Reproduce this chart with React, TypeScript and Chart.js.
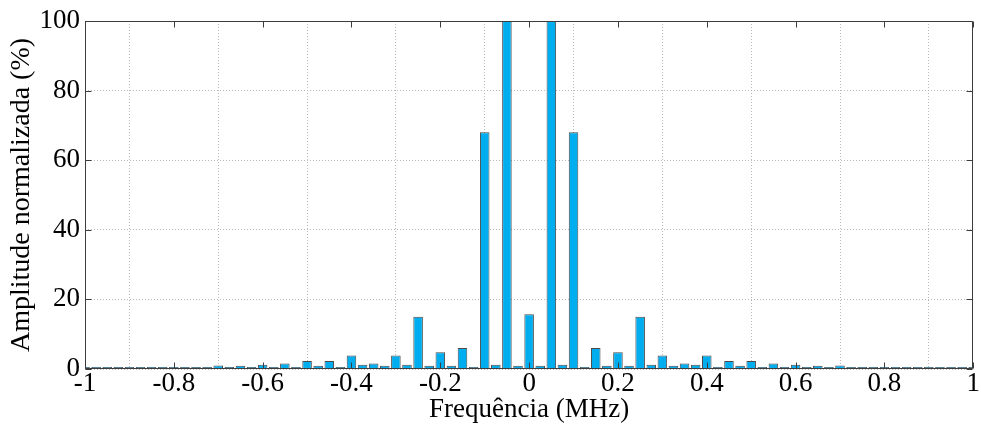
import React, { useEffect, useRef } from "react";
import { Chart, registerables } from "chart.js";

Chart.register(...registerables);

// Frequency (MHz) of each bar
const frequencies = [
  -1, -0.975, -0.95, -0.925, -0.9, -0.875, -0.85, -0.825, -0.8, -0.775,
  -0.75, -0.725, -0.7, -0.675, -0.65, -0.625, -0.6, -0.575, -0.55, -0.525,
  -0.5, -0.475, -0.45, -0.425, -0.4, -0.375, -0.35, -0.325, -0.3, -0.275,
  -0.25, -0.225, -0.2, -0.175, -0.15, -0.125, -0.1, -0.075, -0.05, -0.025,
  0,
  0.025, 0.05, 0.075, 0.1, 0.125, 0.15, 0.175, 0.2, 0.225, 0.25,
  0.275, 0.3, 0.325, 0.35, 0.375, 0.4, 0.425, 0.45, 0.475, 0.5,
  0.525, 0.55, 0.575, 0.6, 0.625, 0.65, 0.675, 0.7, 0.725, 0.75,
  0.775, 0.8, 0.825, 0.85, 0.875, 0.9, 0.925, 0.95, 0.975, 1,
];

// Normalized amplitude (%) of each bar
const amplitudes = [
  0.6, 0.6, 0.6, 0.6, 0.6, 0.6, 0.6, 0.6, 0.6, 0.6,
  0.6, 0.6, 1.0, 0.6, 0.9, 0.6, 1.2, 0.6, 1.6, 0.6,
  2.3, 0.9, 2.3, 0.6, 3.9, 1.2, 1.6, 0.9, 3.9, 1.2,
  15, 0.9, 4.8, 0.9, 6, 0.6, 68, 1.2, 100, 0.9,
  15.7,
  0.9, 100, 1.2, 68, 0.6, 6, 0.9, 4.8, 0.9, 15,
  1.2, 3.9, 0.9, 1.6, 1.2, 3.9, 0.6, 2.3, 0.9, 2.3,
  0.6, 1.6, 0.6, 1.2, 0.6, 0.9, 0.6, 1.0, 0.6, 0.6,
  0.6, 0.6, 0.6, 0.6, 0.6, 0.6, 0.6, 0.6, 0.6, 0.6,
];

const xTicks = [-1, -0.8, -0.6, -0.4, -0.2, 0, 0.2, 0.4, 0.6, 0.8, 1];
const yTicks = [0, 20, 40, 60, 80, 100];

const xTitle = "Frequência (MHz)";
const yTitle = "Amplitude normalizada (%)";

const FONT = "'Liberation Serif', 'Times New Roman', serif";

const framePlugin = {
  id: "frame",
  afterDatasetsDraw(chart: any) {
    const { ctx, chartArea } = chart;
    const { left, right, top, bottom } = chartArea;
    const xs = chart.scales.x;
    const ys = chart.scales.y;
    ctx.save();
    ctx.strokeStyle = "#3c3c3c";
    ctx.lineWidth = 1;
    ctx.beginPath();
    const l = Math.round(left) + 0.5;
    const r = Math.round(right) - 0.5;
    const t = Math.round(top) + 0.5;
    const b = Math.round(bottom) - 0.5;
    ctx.moveTo(l, t);
    ctx.lineTo(l, b);
    ctx.lineTo(r, b);
    ctx.lineTo(r, t);
    ctx.lineTo(l, t);
    const tl = 6;
    xTicks.forEach((v) => {
      const px = Math.round(xs.getPixelForValue(v)) + 0.5;
      ctx.moveTo(px, b);
      ctx.lineTo(px, b - tl);
      ctx.moveTo(px, t);
      ctx.lineTo(px, t + tl);
    });
    yTicks.forEach((v) => {
      const py = Math.round(ys.getPixelForValue(v)) + 0.5;
      ctx.moveTo(l, py);
      ctx.lineTo(l + tl, py);
      ctx.moveTo(r, py);
      ctx.lineTo(r - tl, py);
    });
    ctx.stroke();
    ctx.restore();
  },
};

export default function App() {
  const ref = useRef<HTMLCanvasElement | null>(null);

  useEffect(() => {
    document.body.style.margin = "0";
    const canvas = ref.current;
    if (!canvas) return;
    const chart = new Chart(canvas, {
      type: "bar",
      data: {
        datasets: [
          {
            data: frequencies.map((f, i) => ({ x: f, y: amplitudes[i] })),
            backgroundColor: "#00adef",
            borderColor: "#4a4a4a",
            borderWidth: 1,
            barPercentage: 0.86,
            categoryPercentage: 1,
          },
        ],
      },
      options: {
        animation: false,
        responsive: true,
        maintainAspectRatio: false,
        layout: { padding: { top: 21, right: 5, left: 0, bottom: 0 } },
        plugins: {
          legend: { display: false },
          tooltip: { enabled: false },
        },
        scales: {
          x: {
            type: "linear",
            min: -1,
            max: 1,
            offset: false,
            afterBuildTicks: (s: any) => {
              s.ticks = xTicks.map((v) => ({ value: v }));
            },
            afterFit: (s: any) => {
              s.height = 56;
            },
            grid: {
              color: "#b8b8b8",
              lineWidth: 1,
              drawTicks: false,
              borderDash: [1, 2],
            },
            border: { display: false, dash: [1, 2] },
            ticks: {
              padding: 1,
              color: "#000",
              font: { family: FONT, size: 27, lineHeight: 1 },
              maxRotation: 0,
              autoSkip: false,
              callback: (v: any) => String(v),
            },
            title: {
              display: true,
              text: xTitle,
              color: "#000",
              font: { family: FONT, size: 27, lineHeight: 1 },
              padding: { top: 0, bottom: 2 },
            },
          },
          y: {
            min: 0,
            max: 100,
            afterBuildTicks: (s: any) => {
              s.ticks = yTicks.map((v) => ({ value: v }));
            },
            afterFit: (s: any) => {
              s.width = 85;
            },
            grid: {
              color: "#b8b8b8",
              lineWidth: 1,
              drawTicks: false,
              borderDash: [1, 2],
            },
            border: { display: false, dash: [1, 2] },
            ticks: {
              padding: 5,
              color: "#000",
              font: { family: FONT, size: 27, lineHeight: 1 },
              callback: (v: any) => String(v),
            },
            title: {
              display: true,
              text: yTitle,
              color: "#000",
              font: { family: FONT, size: 28, lineHeight: 1 },
              padding: { top: 8, bottom: 0 },
            },
          },
        },
      },
      plugins: [framePlugin],
    } as any);
    return () => chart.destroy();
  }, []);

  return (
    <div style={{ position: "fixed", left: 0, top: 0, width: 981, height: 425, background: "#fff" }}>
      <canvas ref={ref} />
    </div>
  );
}
